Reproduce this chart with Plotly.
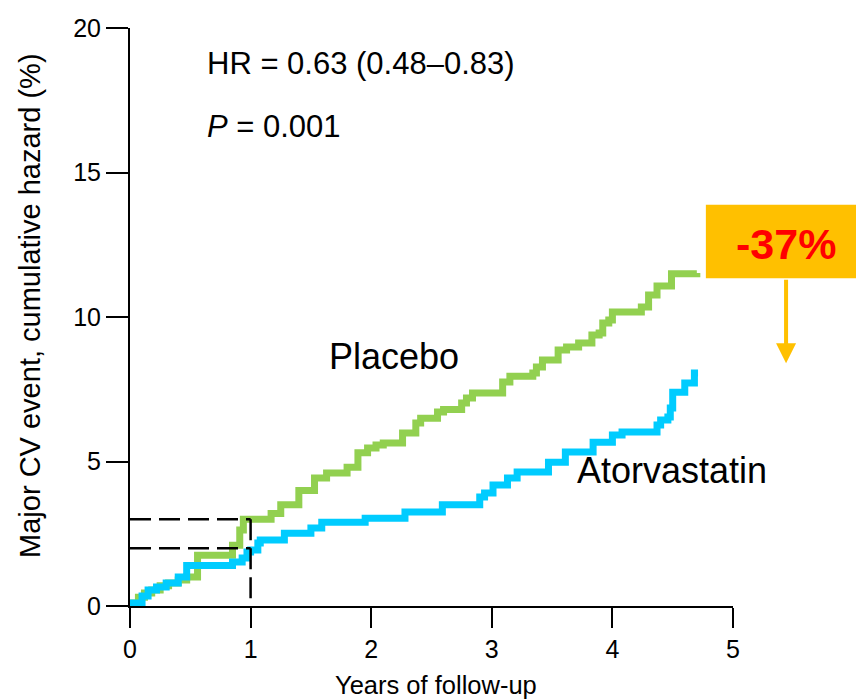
import plotly.graph_objects as go

# Cumulative hazard (%) step points: time in years, level after each event
placebo_t = [0.0, 0.03, 0.07, 0.12, 0.18, 0.25, 0.32, 0.40, 0.47, 0.56, 0.85, 0.91, 0.94,
             1.17, 1.25, 1.40, 1.53, 1.63, 1.80, 1.89, 1.97, 2.04, 2.10, 2.26, 2.37, 2.41,
             2.55, 2.60, 2.75, 2.79, 2.84, 3.09, 3.15, 3.34, 3.37, 3.42, 3.55, 3.62, 3.72,
             3.83, 3.89, 3.92, 3.97, 4.00, 4.24, 4.30, 4.37, 4.49, 4.70]
placebo_v = [0.0, 0.10, 0.30, 0.45, 0.55, 0.70, 0.80, 0.90, 1.00, 1.76, 2.10, 2.63, 3.00,
             3.20, 3.50, 4.00, 4.43, 4.60, 4.80, 5.30, 5.47, 5.57, 5.64, 5.99, 6.33, 6.50,
             6.71, 6.80, 7.02, 7.20, 7.37, 7.75, 7.95, 8.06, 8.27, 8.51, 8.86, 8.96, 9.10,
             9.38, 9.45, 9.79, 9.90, 10.17, 10.35, 10.76, 11.07, 11.50, 11.52]

atorva_t = [0.0, 0.02, 0.10, 0.15, 0.22, 0.30, 0.40, 0.47, 0.85, 0.93, 0.97, 1.00, 1.06,
            1.08, 1.28, 1.50, 1.59, 1.95, 2.28, 2.59, 2.90, 2.94, 3.01, 3.13, 3.21, 3.47,
            3.61, 3.84, 4.00, 4.08, 4.37, 4.40, 4.46, 4.48, 4.50, 4.60, 4.68, 4.71]
atorva_v = [0.0, 0.10, 0.35, 0.55, 0.66, 0.80, 1.00, 1.40, 1.52, 1.66, 1.87, 1.94, 2.18,
            2.28, 2.52, 2.70, 2.90, 3.04, 3.25, 3.50, 3.77, 3.91, 4.19, 4.43, 4.64, 4.97,
            5.33, 5.67, 5.92, 6.02, 6.26, 6.44, 6.54, 6.85, 7.40, 7.72, 8.06, 8.06]

# One-year event rates marked with dashed guides
one_year = 1
one_year_rates = [2, 3]

x_ticks = [0, 1, 2, 3, 4, 5]
y_ticks = [0, 5, 10, 15, 20]

GREEN = "#92D050"
BLUE = "#00CCFF"
ORANGE = "#FFC000"
FONT = "Liberation Sans, Arial, sans-serif"
DASH = "21px,8px"

fig = go.Figure()

fig.add_trace(go.Scatter(x=placebo_t, y=placebo_v, mode="lines", line_shape="hv",
                         line=dict(color=GREEN, width=7), showlegend=False))
fig.add_trace(go.Scatter(x=atorva_t, y=atorva_v, mode="lines", line_shape="hv",
                         line=dict(color=BLUE, width=7), showlegend=False))

# dashed guides at 1 year
for r in one_year_rates:
    fig.add_trace(go.Scatter(x=[0, one_year], y=[r, r], mode="lines",
                             line=dict(color="black", width=2.5, dash=DASH),
                             showlegend=False, hoverinfo="skip"))
fig.add_trace(go.Scatter(x=[one_year, one_year], y=[max(one_year_rates), 0], mode="lines",
                         line=dict(color="black", width=2.5, dash=DASH),
                         showlegend=False, hoverinfo="skip"))

fig.update_xaxes(range=[0, 5], tickvals=x_ticks, ticks="outside", ticklen=20, tickwidth=2,
                 tickcolor="black", showline=True, linecolor="black", linewidth=2,
                 showgrid=False, zeroline=False, tickfont=dict(family=FONT, size=25, color="black"))
fig.update_yaxes(range=[0, 20], tickvals=y_ticks, ticks="outside", ticklen=22, tickwidth=2,
                 tickcolor="black", showline=True, linecolor="black", linewidth=2,
                 showgrid=False, zeroline=False, tickfont=dict(family=FONT, size=25, color="black"))

annotations = [
    dict(text="HR = 0.63 (0.48–0.83)", x=0.124, y=0.939, xanchor="left", yanchor="middle",
         font=dict(size=31)),
    dict(text="<i>P</i> = 0.001", x=0.124, y=0.829, xanchor="left", yanchor="middle",
         font=dict(size=31)),
    dict(text="Placebo", x=0.327, y=0.431, xanchor="left", yanchor="middle",
         font=dict(size=36)),
    dict(text="Atorvastatin", x=0.738, y=0.235, xanchor="left", yanchor="middle",
         font=dict(size=36)),
    dict(text="Major CV event, cumulative hazard (%)", x=-0.166, y=0.519, textangle=-90,
         xanchor="center", yanchor="middle", font=dict(size=29)),
    dict(text="Years of follow-up", x=0.507, y=-0.137, xanchor="center", yanchor="middle",
         font=dict(size=25.5)),
    dict(text="<b>-37%</b>", x=1.088, y=0.626, xanchor="center", yanchor="middle",
         font=dict(size=43, color="#FF0000")),
    dict(text="", x=1.088, y=0.42, ax=0, ay=-85, showarrow=True, arrowhead=2,
         arrowsize=1.0, arrowwidth=4, arrowcolor=ORANGE),
]
for a in annotations:
    a.setdefault("showarrow", False)
    a["xref"] = "paper"
    a["yref"] = "paper"
    f = a.get("font", {})
    f.setdefault("family", FONT)
    f.setdefault("color", "black")
    a["font"] = f

fig.update_layout(
    width=856, height=700,
    margin=dict(l=130, r=123, t=28, b=94),
    paper_bgcolor="white", plot_bgcolor="white",
    annotations=annotations,
    shapes=[dict(type="rect", xref="paper", yref="paper", x0=0.955, x1=1.204,
                 y0=0.567, y1=0.694, fillcolor=ORANGE, line=dict(width=0), layer="below")],
)

fig.write_html("out.html")
